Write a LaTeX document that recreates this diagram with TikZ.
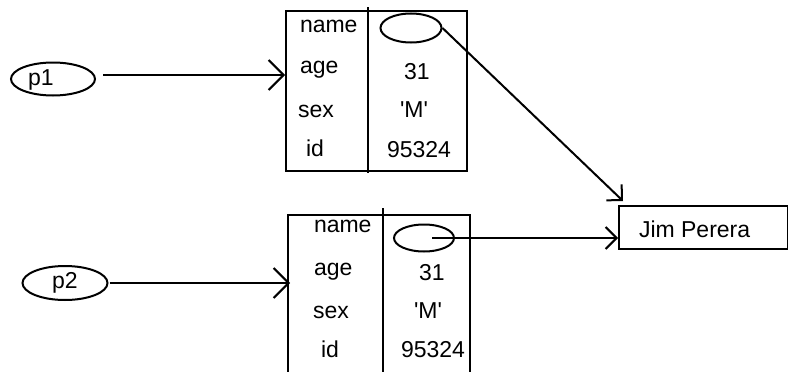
\documentclass[tikz,border=0pt]{standalone}
\usepackage{fontspec}
\setmainfont{Liberation Sans}
\usetikzlibrary{arrows.meta,calc,shapes.geometric}
\newcommand{\chq}{\textquotesingle M\textquotesingle}
\begin{document}
\begin{tikzpicture}[x=1pt,y=-1pt,
  line width=2pt,
  every node/.style={font=\fontsize{23}{27}\selectfont},
  oval/.style={draw,ellipse,inner sep=0pt},
  frame/.style={draw,rectangle,inner sep=0pt,anchor=north west},
  lbl/.style={inner sep=0pt,anchor=base west},
  ptr/.style={-{Straight Barb[length=15pt,width=30pt]}},
  sptr/.style={-{Straight Barb[length=11pt,width=22pt]}}]
\useasboundingbox (0,0) rectangle (788,372);
\clip (0,0) rectangle (788,372);

% variables
\node[oval,minimum width=84pt,minimum height=33pt] (p1) at (53,79) {};
\node[inner sep=0pt] (p1t) at (41,80) {p1};
\node[oval,minimum width=85pt,minimum height=34pt] (p2) at (65,283) {p2};

% first record
\node[frame,minimum width=181pt,minimum height=160pt] (r1) at (285,10) {};
\coordinate (d1t) at (368,7);
\coordinate (d1b) at (368,173);
\draw (d1t) -- (d1b);
\node[lbl] (n1) at (299,32) {name};
\node[lbl] (a1) at (299,73) {age};
\node[lbl] (s1) at (297,117) {sex};
\node[lbl] (i1) at (305,156) {id};
\node[lbl] (va1) at (403,79) {31};
\node[lbl] (vs1) at (399,117) {\chq};
\node[lbl] (vi1) at (386,157) {95324};
\node[oval,minimum width=61pt,minimum height=29pt] (o1) at (411,28) {};

% second record
\node[frame,minimum width=182pt,minimum height=200pt] (r2) at (287,214) {};
\coordinate (d2t) at (383,208);
\coordinate (d2b) at (383,380);
\draw (d2t) -- (d2b);
\node[lbl] (n2) at (313,232) {name};
\node[lbl] (a2) at (313,275) {age};
\node[lbl] (s2) at (312,318) {sex};
\node[lbl] (i2) at (320,357) {id};
\node[lbl] (va2) at (418,280) {31};
\node[lbl] (vs2) at (413,318) {\chq};
\node[lbl] (vi2) at (400,357) {95324};
\node[oval,minimum width=60pt,minimum height=27pt] (o2) at (424,238) {};

% shared string
\node[frame,minimum width=169pt,minimum height=43pt] (jim) at (618,205) {};
\node[lbl] (jt) at (638,237) {Jim Perera};

% pointers
\coordinate (q1) at ([shift={(7,-4)}]p1.east);
\draw[ptr] (q1) -- (q1 -| r1.west);
\coordinate (q2) at ([xshift=1pt]p2.east);
\draw[ptr] (q2) -- ([xshift=3pt]q2 -| r2.west);
\draw[sptr] (o1.east) -- ($(jim.north west)+(5,-4)$);
\coordinate (q4) at ([xshift=8pt]o2.center);
\draw[sptr] (q4) -- (q4 -| jim.west);
\end{tikzpicture}
\end{document}
